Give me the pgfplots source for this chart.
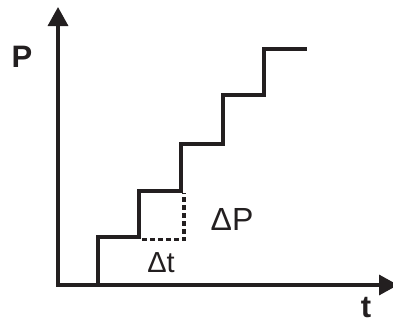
\documentclass[border=0pt]{standalone}
\usepackage{pgfplots}
\pgfplotsset{compat=1.18}
\usepackage{fontspec}
\setmainfont{Liberation Sans}
\usetikzlibrary{arrows.meta}
\definecolor{ink}{HTML}{231F20}
\begin{document}
\begin{tikzpicture}
\begin{axis}[
  scale only axis, width=393pt, height=325pt,
  xmin=0, xmax=393, ymin=0, ymax=325,
  hide axis, clip=true,
]
\addplot[draw=none] coordinates {(0,0) (393,325)};
% axes
\addplot[ink, line width=3.4pt, -{Triangle[length=19pt,width=20pt]}] coordinates {(58,38.3) (58,318)};
\addplot[ink, line width=3.4pt, -{Triangle[length=19pt,width=20pt]}] coordinates {(56.3,40) (398,40)};
% staircase
\addplot[ink, line width=3.4pt, line join=miter] coordinates {
(98,40) (98,88) (139,88) (139,134) (181,134) (181,181) (223,181) (223,230) (264,230) (264,276) (307,276)};
% dotted
\addplot[ink, line width=3.4pt, dash pattern=on 5pt off 3pt] coordinates {(142,85.5) (184,85.5) (184,132)};
\node[font=\fontsize{31}{31}\selectfont\bfseries, text=ink] at (axis cs:22,268) {P};
\node[font=\fontsize{31}{31}\selectfont\bfseries, text=ink] at (axis cs:366,17) {t};
\node[font=\fontsize{32}{32}\selectfont, text=ink] at (axis cs:232,106) {ΔP};
\node[font=\fontsize{29}{29}\selectfont, text=ink] at (axis cs:161,62) {Δt};
\end{axis}
\end{tikzpicture}
\end{document}
